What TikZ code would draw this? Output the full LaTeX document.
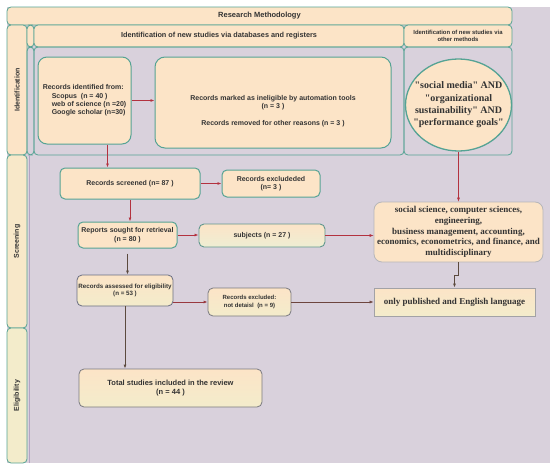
\documentclass[tikz,border=0pt]{standalone}
\usepackage{fontspec}
\setmainfont{Liberation Serif}
\setsansfont{Liberation Sans}
\newfontfamily\qserif{Liberation Serif}[Ligatures=TeXOff]
\usetikzlibrary{arrows.meta,shapes.geometric}
\definecolor{rmlav}{HTML}{D9D1DC}
\definecolor{rmpeach}{HTML}{FCE4C7}
\definecolor{rmpale}{HTML}{F3ECCB}
\definecolor{rmsage}{HTML}{EEEED3}
\definecolor{rmteal}{HTML}{55A394}
\definecolor{rmgrey}{HTML}{7A7A80}
\definecolor{rmslate}{HTML}{6A6E82}
\definecolor{rmline}{HTML}{B5A3C4}
\definecolor{rmred}{HTML}{B3323F}
\definecolor{rmbrown}{HTML}{5C4A3E}
\definecolor{rmink}{HTML}{333333}
\newcommand{\fsz}[2]{\fontsize{#1}{#2}\selectfont}
\tikzset{
  bx/.style={rounded corners=5pt, align=center, inner sep=1pt, text=rmink, font=\sffamily\bfseries\fsz{7}{8.4}},
  tbx/.style={bx, draw=rmteal, line width=1pt, fill=rmpeach},
  gbx/.style={bx, draw=rmgrey, line width=0.8pt, top color=rmpeach, bottom color=rmpale},
  sbx/.style={bx, draw=rmgrey!55, line width=0.8pt, fill=rmpeach},
  srf/.style={align=center, text=rmink, font=\rmfamily\bfseries\fsz{9}{10.7}},
  band/.style={draw=rmteal, line width=0.8pt, rounded corners=4pt, fill=rmpeach, inner sep=0pt, align=center, text=rmink},
  pool/.style={draw=rmteal, line width=0.8pt, rounded corners=4pt, inner sep=0pt},
  lane/.style={band, rotate=90, font=\sffamily\bfseries\fsz{7}{8.4}},
  rarr/.style={-{Latex[length=4pt,width=3pt]}, line width=0.9pt, rmred},
  barr/.style={-{Latex[length=4pt,width=3pt]}, line width=0.8pt, rmbrown},
}
\begin{document}
\begin{tikzpicture}[x=1pt,y=-1pt]
  \useasboundingbox (0,0) rectangle (550,471);
  \fill[rmlav] (7,7) rectangle (550,463);
  % frame: title, lanes, headers
  \node[band, minimum width=505pt, minimum height=18pt, font=\sffamily\bfseries\fsz{7.5}{9}] (title) at (259.5,16) {Research Methodology};
  \foreach \n/\t/\y/\h/\c in {idl/Identification/90/130pt/rmpeach, scl/Screening/241.5/173pt/rmpeach!55!rmpale, ell/Eligibility/395.5/135pt/rmpale}
    \node[lane, fill=\c, minimum width=\h, minimum height=20pt] (\n) at (17,\y) {\t};
  \draw[pool, fill=rmpeach] (27,25) rectangle (34,47);
  \draw[pool] (27,47) rectangle (34,155);
  \node[band, minimum width=370pt, minimum height=22pt, font=\sffamily\bfseries\fsz{7.3}{9}] (hdra) at (219,36) {Identification of new studies via databases and registers};
  \node[band, minimum width=108pt, minimum height=22pt, font=\sffamily\bfseries\fsz{5.9}{7.4}] (hdrb) at (458,36) {Identification of new studies via\\other methods};
  \node[pool, minimum width=370pt, minimum height=108pt] (poola) at (219,101) {};
  \node[pool, minimum width=108pt, minimum height=108pt] (poolb) at (458,101) {};
  \draw[rmline, line width=0.8pt] (29.5,155) -- (29.5,463);
  % identification
  \node[tbx, rounded corners=9pt, minimum width=93pt, minimum height=87pt, align=left] (ident) at (84.5,100.5) {Records identified from:\\\hspace{9pt}Scopus~ (n = 40 )\\\hspace{9pt}web of science (n =20)\\\hspace{9pt}Google scholar (n=30)};
  \node[tbx, rounded corners=10pt, minimum width=236pt, minimum height=91pt] (inelig) at (273,102.5) {\rule{0pt}{22pt}Records marked as ineligible by automation tools\\(n = 3 )\\[8pt]Records removed for other reasons (n = 3 )};
  \node[ellipse, draw=rmteal, line width=1.3pt, fill=rmpeach, minimum width=106pt, minimum height=92pt, inner sep=0pt,
        label={[srf, font=\qserif\bfseries\fsz{10}{12.4}]center:"social media" AND\\"organizational\\sustainability" AND\\"performance goals"}] (circ) at (458.5,105) {};
  % screening
  \node[tbx, minimum width=140pt, minimum height=31pt] (screened) at (130,183.5) {Records screened (n= 87 )};
  \node[tbx, minimum width=98pt, minimum height=27pt] (exa) at (271,183.5) {Records excludeded\\(n= 3 )};
  \node[tbx, minimum width=99pt, minimum height=26pt] (reports) at (127.5,235) {Reports sought for retrieval\\(n = 80 )};
  \node[bx, draw=rmteal!70!rmgrey, line width=0.9pt, top color=rmpeach, bottom color=rmsage, minimum width=126pt, minimum height=23pt] (subj) at (262,235.5) {subjects (n = 27 )};
  \node[sbx, srf, rounded corners=8pt, minimum width=169pt, minimum height=60pt] (fields) at (458.5,232) {social science, computer sciences,\\engineering,\\business management, accounting,\\economics, econometrics, and finance, and\\multidisciplinary};
  \node[gbx, draw=rmslate, minimum width=96pt, minimum height=31pt, font=\sffamily\bfseries\fsz{6.2}{7.6}] (assessed) at (125,290.5) {Records assessed for eligibility\\(n = 53 )};
  \node[gbx, minimum width=83pt, minimum height=28pt, font=\sffamily\bfseries\fsz{6}{7.4}] (exb) at (249.5,302) {Records excluded:\\not detaisl~ (n = 9)};
  \node[gbx, srf, draw=rmgrey!70, sharp corners, minimum width=161pt, minimum height=28pt] (only) at (454.5,302) {only published and English language};
  % eligibility
  \node[gbx, minimum width=183pt, minimum height=38pt, font=\sffamily\bfseries\fsz{7.5}{9}] (total) at (170.5,388) {Total studies included in the review\\(n = 44 )};
  % connectors
  \draw[rarr, line width=1.3pt] (ident.east) -- (ident.east -| inelig.west);
  \draw[rarr] ([xshift=23pt]ident.south) -- ([xshift=23pt]ident.south |- screened.north);
  \draw[rarr, line width=1.2pt] (screened.east) -- (screened.east -| exa.west);
  \draw[rarr] (screened.south) -- (screened.south |- reports.north);
  \draw[rarr] (reports.east) -- (reports.east -| subj.west);
  \draw[rarr, line width=0.6pt] (subj.east) -- (subj.east -| fields.west);
  \draw[rarr, line width=0.6pt] (circ.south) -- (circ.south |- fields.north);
  \draw[barr] (fields.south) -- ++(0,13) -| (only.north);
  \draw[barr] ([yshift=-5pt]reports.south) -- (reports.south |- assessed.north);
  \draw[rarr, rmred!70!rmbrown] (assessed.east |- exb.west) -- (exb.west);
  \draw[barr, rmbrown!80!rmred, line width=0.6pt] (exb.east) -- (only.west);
  \draw[barr] (assessed.south) -- (assessed.south |- total.north);
\end{tikzpicture}
\end{document}
